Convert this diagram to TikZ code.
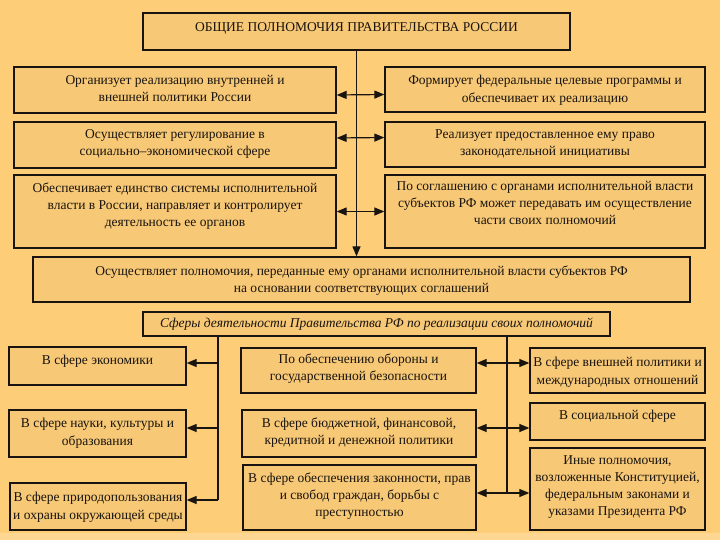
\documentclass[tikz,border=0pt]{standalone}
\usepackage{fontspec}
\setmainfont{Liberation Serif}
\usetikzlibrary{arrows.meta,fit}
\definecolor{bgc}{RGB}{254,205,120}
\definecolor{boxc}{RGB}{247,200,118}
\definecolor{ink}{RGB}{25,20,15}
\tikzset{
 box/.style={draw=ink, line width=1.3pt, fill=boxc, inner sep=0pt},
 txt/.style={anchor=north, inner sep=0pt, align=center, font=\fontsize{13.5}{17.2}\selectfont, text=ink},
 conn/.style={draw=ink, line width=1.2pt},
 one/.style={conn, -{Triangle[length=10pt,width=8pt]}},
 two/.style={conn, {Triangle[length=10pt,width=8pt]}-{Triangle[length=10pt,width=8pt]}},
}
% #1 = vertical offset of text, #2 name, #3..#6 corners, #7 text
\newcommand\mybox[7][-8pt]{%
 \node[box, fit={(#3,#4) (#5,#6)}] (#2) {};
 \node[txt, yshift=#1] (#2t) at (#2.north) {#7};
}
\begin{document}
\begin{tikzpicture}[x=1pt,y=-1pt]
\useasboundingbox (0,0) rectangle (720,540);
\fill[bgc] (0,0) rectangle (720,540);
\fill[bgc!80!white] (0,533) rectangle (720,540);
% top part
\mybox[-10pt]{T}{143}{13}{570}{50}{ОБЩИЕ ПОЛНОМОЧИЯ ПРАВИТЕЛЬСТВА РОССИИ}
\mybox[-9pt]{L1}{14}{67}{336}{113}{Организует реализацию внутренней и\\внешней политики России}
\mybox[-9pt]{R1}{385}{67}{705}{112}{Формирует федеральные целевые программы и\\обеспечивает их реализацию}
\mybox[-8pt]{L2}{14}{122}{336}{168}{Осуществляет регулирование в\\социально–экономической сфере}
\mybox[-8pt]{R2}{385}{122}{705}{167}{Реализует предоставленное ему право\\законодательной инициативы}
\mybox[-8pt]{L3}{14}{175}{336}{248}{Обеспечивает единство системы исполнительной\\власти в России, направляет и контролирует\\деятельность ее органов}
\mybox[-6.5pt]{R3}{385}{175}{705}{248}{По соглашению с органами исполнительной власти\\субъектов РФ может передавать им осуществление\\части своих полномочий}
\mybox[-9pt]{W}{33}{257}{690}{302}{Осуществляет полномочия, переданные ему органами исполнительной власти субъектов РФ\\на основании соответствующих соглашений}
\node[box, fit={(143,312) (610,336)}] (S) {};
\node[txt, anchor=center, font=\fontsize{13.5}{17}\selectfont\itshape] (St) at (S.center) {Сферы деятельности Правительства РФ по реализации своих полномочий};
% bottom part
\mybox[-9pt]{LB1}{9}{347}{186}{385}{В сфере экономики}
\mybox[-9pt]{LB2}{9}{410}{186}{457}{В сфере науки, культуры и\\образования}
\mybox[-10pt]{LB3}{10}{483}{186}{530}{В сфере природопользования\\и охраны окружающей среды}
\mybox[-6pt]{MB1}{241}{348}{476}{393}{По обеспечению обороны и\\государственной безопасности}
\mybox[-8pt]{MB2}{242}{410}{476}{457}{В сфере бюджетной, финансовой,\\кредитной и денежной политики}
\mybox[-8pt]{MB3}{243}{465}{476}{530}{В сфере обеспечения законности, прав\\и свобод граждан, борьбы с\\преступностью}
\mybox[-10pt]{RB1}{530}{348}{705}{393}{В сфере внешней политики и\\международных отношений}
\mybox[-8pt]{RB2}{530}{403}{705}{440}{В социальной сфере}
\mybox[-8pt]{RB3}{530}{448}{705}{530}{Иные полномочия,\\возложенные Конституцией,\\федеральным законами и\\указами Президента РФ}
% top connectors
\draw[one] (T.south) -- (T.south |- W.north);
\draw[two] ([yshift=-5pt]L1.east) -- ([yshift=-5pt]R1.west);
\draw[two] ([yshift=7pt]L2.east) -- ([yshift=7pt]R2.west);
\draw[two] (L3.east) -- (R3.west);
% bottom connectors
\coordinate (l1) at (218,363);
\coordinate (l2) at (218,428);
\coordinate (l3) at (218,500);
\coordinate (r1) at (507,363);
\coordinate (r2) at (507,428);
\coordinate (r3) at (507,493);
\draw[conn] (l1 |- S.south) -- (l3);
\draw[conn] (r1 |- S.south) -- (r3);
\draw[one] (l1) -- (l1 -| LB1.east);
\draw[one] (l2) -- (l2 -| LB2.east);
\draw[one] (l3) -- (l3 -| LB3.east);
\draw[two] (r1 -| MB1.east) -- (r1 -| RB1.west);
\draw[two] (r2 -| MB2.east) -- (r2 -| RB2.west);
\draw[two] (r3 -| MB3.east) -- (r3 -| RB3.west);
\end{tikzpicture}
\end{document}
